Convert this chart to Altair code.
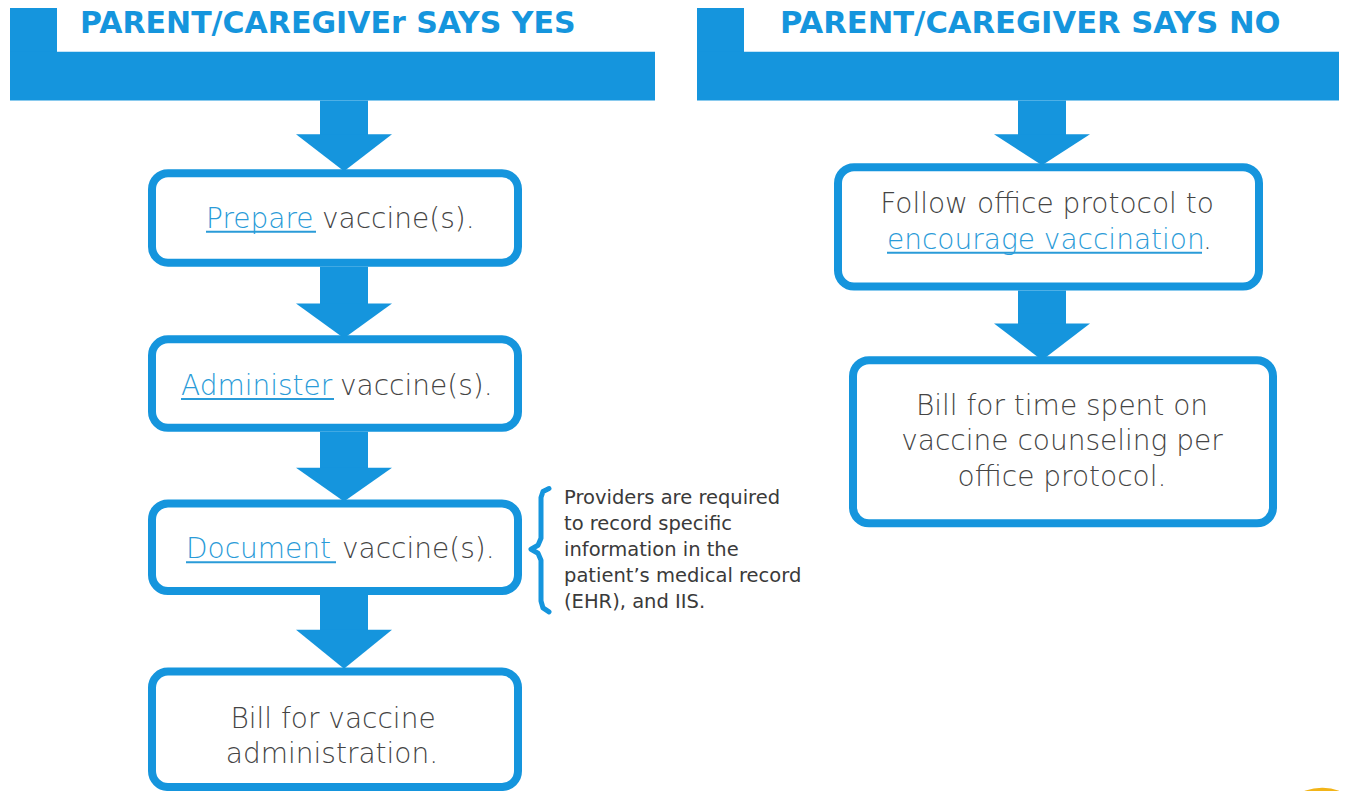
import altair as alt
import pandas as pd

# ---------------- canvas / colours ----------------
W, H = 1331, 783
X_DOM = [8, 1339]
Y_DOM = [8, 795]
BLUE = "#1595DD"
LINK = "#2A9BD8"
GRAY = "#444444"
FONT = "DejaVu Sans"

# ---------------- content ----------------
header_text = ["PARENT/CAREGIVEr SAYS YES", "PARENT/CAREGIVER SAYS NO"]
header_x = [80, 780]
header_y = [33, 33]
header_size = [30, 30.6]

# header L-shapes: tab + bar  (x0, x1, y0, y1)
bar_x0 = [10, 10, 697, 697]
bar_x1 = [57, 655, 744, 1340]
bar_y0 = [5, 52, 5, 52]
bar_y1 = [54, 101, 54, 101]

# arrows: centre x, stem top, head top, tip
arrow_cx = [344, 344, 344, 344, 1042, 1042]
arrow_top = [101, 268, 434, 598, 101, 292]
arrow_head = [135, 305, 470, 633, 135, 325]
arrow_tip = [172, 340, 504, 672, 166, 362]
stem_half = [24, 24, 24, 24, 24, 24]
head_half = [48, 48, 48, 48, 48, 48]

# boxes (outer edges)
box_x0 = [148, 148, 148, 148, 834, 849]
box_x1 = [522, 522, 522, 522, 1263, 1277]
box_y0 = [170, 337, 502, 671, 164, 358]
box_y1 = [268, 434, 598, 795, 292, 530]

# linked words (blue, underlined) and the rest of their lines
link_text = ["Prepare", "Administer", "Document", "encourage vaccination"]
link_x0 = [206, 181, 186, 887]
link_x1 = [316, 334, 336, 1202]
link_y = [229, 397, 561, 250]
rest_text = ["vaccine(s).", "vaccine(s).", "vaccine(s).", "."]
rest_x = [322, 340, 342, 1203]

# centred plain lines
plain_text = ["Bill for vaccine", "administration.", "Follow office protocol to",
              "Bill for time spent on", "vaccine counseling per", "office protocol."]
plain_x = [333, 332, 1047, 1062, 1062, 1062]
plain_y = [732, 767, 214, 417, 452, 488]

# side note
note_text = ["Providers are required", "to record specific", "information in the",
             "patient\u2019s medical record", "(EHR), and IIS."]
note_x = [564] * 5
note_y = [507, 533, 559, 585, 611]

# brace path
brace_x = [549, 543, 541, 541, 538, 531, 538, 541, 541, 543, 549]
brace_y = [491, 494, 500, 541, 548, 552, 556, 563, 604, 611, 615]

# ---------------- scales ----------------
xs = alt.Scale(domain=X_DOM, nice=False, zero=False)
ys = alt.Scale(domain=Y_DOM, nice=False, zero=False, reverse=True)


def X(f):
    return alt.X(f, type="quantitative", scale=xs, axis=None)


def Y(f):
    return alt.Y(f, type="quantitative", scale=ys, axis=None)


# ---------------- data frames ----------------
bars = pd.DataFrame({"x0": bar_x0, "x1": bar_x1, "y0": bar_y0, "y1": bar_y1})

stems = pd.DataFrame({
    "x0": [c - s for c, s in zip(arrow_cx, stem_half)],
    "x1": [c + s for c, s in zip(arrow_cx, stem_half)],
    "y0": arrow_top,
    "y1": [h + 1 for h in arrow_head],
})

head_rows = []
for i, (c, hh, ht, tp) in enumerate(zip(arrow_cx, head_half, arrow_head, arrow_tip)):
    head_rows.append({"id": i, "x": c - hh, "y": ht, "y2": ht})
    head_rows.append({"id": i, "x": c, "y": ht, "y2": tp})
    head_rows.append({"id": i, "x": c + hh, "y": ht, "y2": ht})
heads = pd.DataFrame(head_rows)

SW = 8
boxes = pd.DataFrame({
    "x0": [v + SW / 2 for v in box_x0],
    "x1": [v - SW / 2 for v in box_x1],
    "y0": [v + SW / 2 for v in box_y0],
    "y1": [v - SW / 2 for v in box_y1],
})

headers = pd.DataFrame({"t": header_text, "x": header_x, "y": header_y, "s": header_size})
links = pd.DataFrame({"t": link_text, "x0": link_x0, "x1": link_x1, "y": link_y,
                      "uy": [v + 4 for v in link_y]})
rests = pd.DataFrame({"t": rest_text, "x": rest_x, "y": link_y})
plains = pd.DataFrame({"t": plain_text, "x": plain_x, "y": plain_y})
notes = pd.DataFrame({"t": note_text, "x": note_x, "y": note_y})
brace = pd.DataFrame({"x": brace_x, "y": brace_y, "o": list(range(len(brace_x)))})
logo = pd.DataFrame({"x": [1322], "y": [842]})

# ---------------- layers ----------------
l_bars = alt.Chart(bars).mark_rect(color=BLUE).encode(
    x=X("x0"), x2="x1", y=Y("y0"), y2="y1")

l_stems = alt.Chart(stems).mark_rect(color=BLUE).encode(
    x=X("x0"), x2="x1", y=Y("y0"), y2="y1")

l_heads = alt.Chart(heads).mark_area(color=BLUE, opacity=1).encode(
    x=X("x"), y=Y("y"), y2="y2", detail="id:N")

l_boxes = alt.Chart(boxes).mark_rect(
    fill="white", stroke=BLUE, strokeWidth=SW, cornerRadius=16).encode(
    x=X("x0"), x2="x1", y=Y("y0"), y2="y1")

l_headers = alt.Chart(headers).mark_text(
    align="left", baseline="alphabetic", font=FONT,
    fontWeight="bold", color=BLUE).encode(
    x=X("x"), y=Y("y"), text="t", size=alt.Size("s:Q", scale=None))

TXT = dict(baseline="alphabetic", font=FONT, fontSize=28, fontWeight=300)

l_links = alt.Chart(links).mark_text(
    align="left", color=LINK, **TXT).encode(x=X("x0"), y=Y("y"), text="t")

l_under = alt.Chart(links).mark_rule(color=LINK, strokeWidth=2).encode(
    x=X("x0"), x2="x1", y=Y("uy"))

l_rests = alt.Chart(rests).mark_text(
    align="left", color=GRAY, **TXT).encode(x=X("x"), y=Y("y"), text="t")

l_plains = alt.Chart(plains).mark_text(
    align="center", color=GRAY, **TXT).encode(x=X("x"), y=Y("y"), text="t")

l_notes = alt.Chart(notes).mark_text(
    align="left", baseline="alphabetic", font=FONT, fontSize=19.5,
    fontWeight="normal", color="#3A3A3A").encode(x=X("x"), y=Y("y"), text="t")

l_brace = alt.Chart(brace).mark_line(
    color=BLUE, strokeWidth=5, strokeCap="round", strokeJoin="round").encode(
    x=X("x"), y=Y("y"), order="o:Q")

l_logo = alt.Chart(logo).mark_arc(
    color="#F2B418", theta=5.6, theta2=7.0, radius=50, radius2=43).encode(
    x=X("x"), y=Y("y"))

chart = alt.layer(
    l_bars, l_stems, l_heads, l_boxes, l_headers, l_links, l_under,
    l_rests, l_plains, l_notes, l_brace, l_logo
).properties(
    width=W, height=H, padding=0,
    autosize=alt.AutoSizeParams(type="none"),
).configure_view(stroke=None)

chart.save("out.html", embed_options={"renderer": "svg", "actions": False})
